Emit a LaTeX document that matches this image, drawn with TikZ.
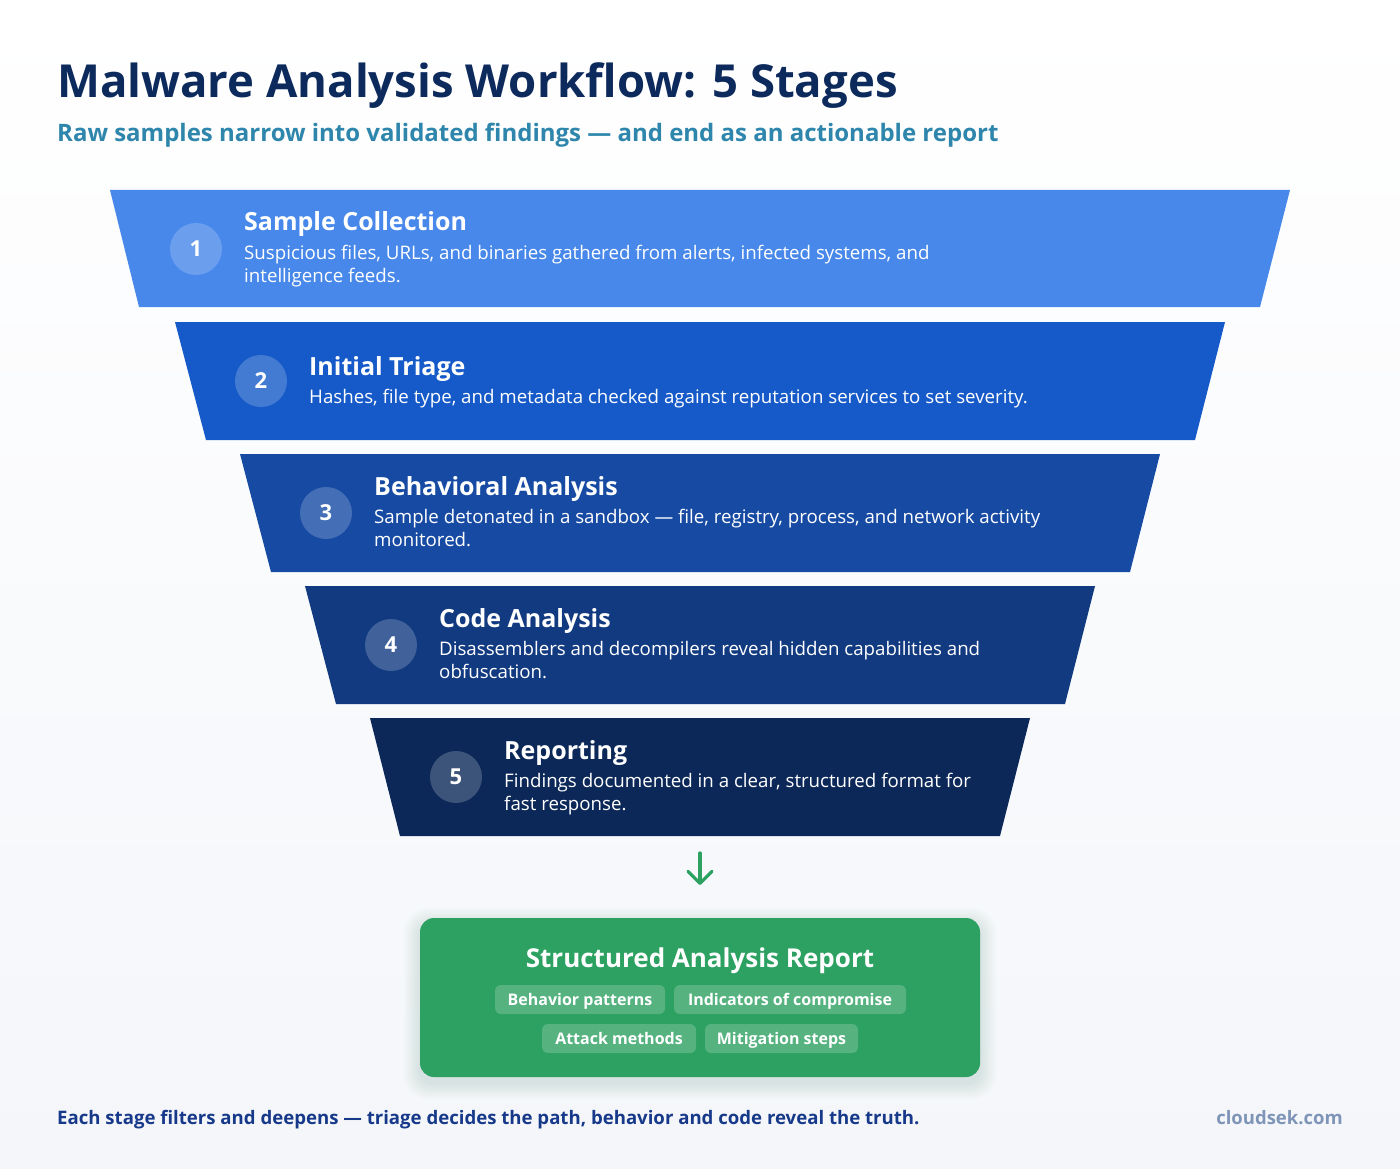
\documentclass[tikz,border=0pt]{standalone}
\usepackage{fontspec}
\setmainfont{Open Sans}
\usetikzlibrary{arrows.meta}
\definecolor{bgbot}{HTML}{F4F6FA}
\definecolor{cA}{HTML}{4788EA}
\definecolor{cB}{HTML}{155AC8}
\definecolor{cC}{HTML}{164AA3}
\definecolor{cD}{HTML}{113A80}
\definecolor{cE}{HTML}{0C2859}
\definecolor{titlec}{HTML}{0D2A5C}
\definecolor{subc}{HTML}{2E86AC}
\definecolor{greenc}{HTML}{2CA161}
\definecolor{shadc}{HTML}{6FA88A}
\definecolor{footc}{HTML}{17398A}
\definecolor{brandc}{HTML}{7F95B8}
\begin{document}
\begin{tikzpicture}[x=1pt,y=-1pt,
  stitle/.style={text=white, anchor=base west, inner sep=0pt, font=\bfseries\fontsize{25}{30}\selectfont},
  sdesc/.style={text=white, anchor=base west, inner sep=0pt, font=\fontsize{18.7}{22}\selectfont},
  numc/.style={circle, fill=white, fill opacity=0.2, text opacity=1, text=white, minimum size=52pt, inner sep=0pt, font=\bfseries\fontsize{22}{24}\selectfont},
  chip/.style={rounded corners=6pt, fill=white, fill opacity=0.2, text opacity=1, text=white, font=\bfseries\fontsize{16}{18}\selectfont, minimum height=29pt, inner sep=0pt, text height=11.4pt, text depth=0pt},
  flow/.style={draw=greenc, line width=3.3pt, line cap=round, line join=round, -{Straight Barb[length=12pt, width=24pt, line cap=round, line join=round]}},
]
\useasboundingbox (0,0) rectangle (1400,1169);
\shade[top color=white, bottom color=bgbot] (0,0) rectangle (1400,1169);

% title
\node[anchor=base west, inner sep=0pt, text=titlec, font=\bfseries\fontsize{45.5}{56}\selectfont] (title) at (57,98) {Malware Analysis Workflow: 5 Stages};
\node[anchor=base west, inner sep=0pt, text=subc, font=\bfseries\fontsize{24}{30}\selectfont] (sub) at (57,142) {Raw samples narrow into validated findings — and end as an actionable report};

% stages
\fill[cA] (110,190) -- (1290,190) -- (1260,307) -- (139,307) -- cycle;
\fill[cB] (175,322) -- (1225,322) -- (1195,440) -- (206,440) -- cycle;
\fill[cC] (240,454) -- (1160,454) -- (1130,572) -- (271,572) -- cycle;
\fill[cD] (305,586) -- (1095,586) -- (1065,704) -- (336,704) -- cycle;
\fill[cE] (370,718) -- (1030,718) -- (1000,836) -- (400,836) -- cycle;

\node[numc] (n1) at (196,249) {1};
\node[numc] (n2) at (261,381) {2};
\node[numc] (n3) at (326,513) {3};
\node[numc] (n4) at (391,645) {4};
\node[numc] (n5) at (456,777) {5};

\node[stitle] (t1) at (244,231) {Sample Collection};
\node[sdesc] (d1a) at (244,259) {Suspicious files, URLs, and binaries gathered from alerts, infected systems, and};
\node[sdesc] (d1b) at (244,282) {intelligence feeds.};

\node[stitle] (t2) at (309,375) {Initial Triage};
\node[sdesc] (d2a) at (309,403) {Hashes, file type, and metadata checked against reputation services to set severity.};

\node[stitle] (t3) at (374,495) {Behavioral Analysis};
\node[sdesc] (d3a) at (374,523) {Sample detonated in a sandbox — file, registry, process, and network activity};
\node[sdesc] (d3b) at (374,546) {monitored.};

\node[stitle] (t4) at (439,627) {Code Analysis};
\node[sdesc] (d4a) at (439,655) {Disassemblers and decompilers reveal hidden capabilities and};
\node[sdesc] (d4b) at (439,678) {obfuscation.};

\node[stitle] (t5) at (504,759) {Reporting};
\node[sdesc] (d5a) at (504,787) {Findings documented in a clear, structured format for};
\node[sdesc] (d5b) at (504,810) {fast response.};

% arrow
\coordinate (a1) at (700,853);
\coordinate (a2) at (700,885);
\draw[flow] (a1) -- (a2);

% report box shadow
\foreach \i in {1,...,10}{
  \fill[shadc, opacity=0.018, rounded corners={14pt+\i pt}] (420-1.6*\i, 924-1.6*\i) rectangle (980+1.6*\i, 1083+1.6*\i);
}
\node[rounded corners=14pt, fill=greenc, minimum width=560pt, minimum height=159pt, inner sep=0pt] (rep) at (700,997.5) {};
\node[anchor=base, text=white, inner sep=0pt, font=\bfseries\fontsize{26}{30}\selectfont] (rept) at (700,967) {Structured Analysis Report};
\node[chip, minimum width=170pt] (c1) at (580,999.5) {Behavior patterns};
\node[chip, minimum width=232pt] (c2) at (790,999.5) {Indicators of compromise};
\node[chip, minimum width=154pt] (c3) at (619,1038.5) {Attack methods};
\node[chip, minimum width=153pt] (c4) at (781.5,1038.5) {Mitigation steps};

% footer
\node[anchor=base west, inner sep=0pt, text=footc, font=\bfseries\fontsize{18.6}{22}\selectfont] (foot) at (57,1124) {Each stage filters and deepens — triage decides the path, behavior and code reveal the truth.};
\node[anchor=base east, inner sep=0pt, text=brandc, font=\bfseries\fontsize{18.5}{22}\selectfont] (brand) at (1343,1124) {cloudsek.com};
\end{tikzpicture}
\end{document}
